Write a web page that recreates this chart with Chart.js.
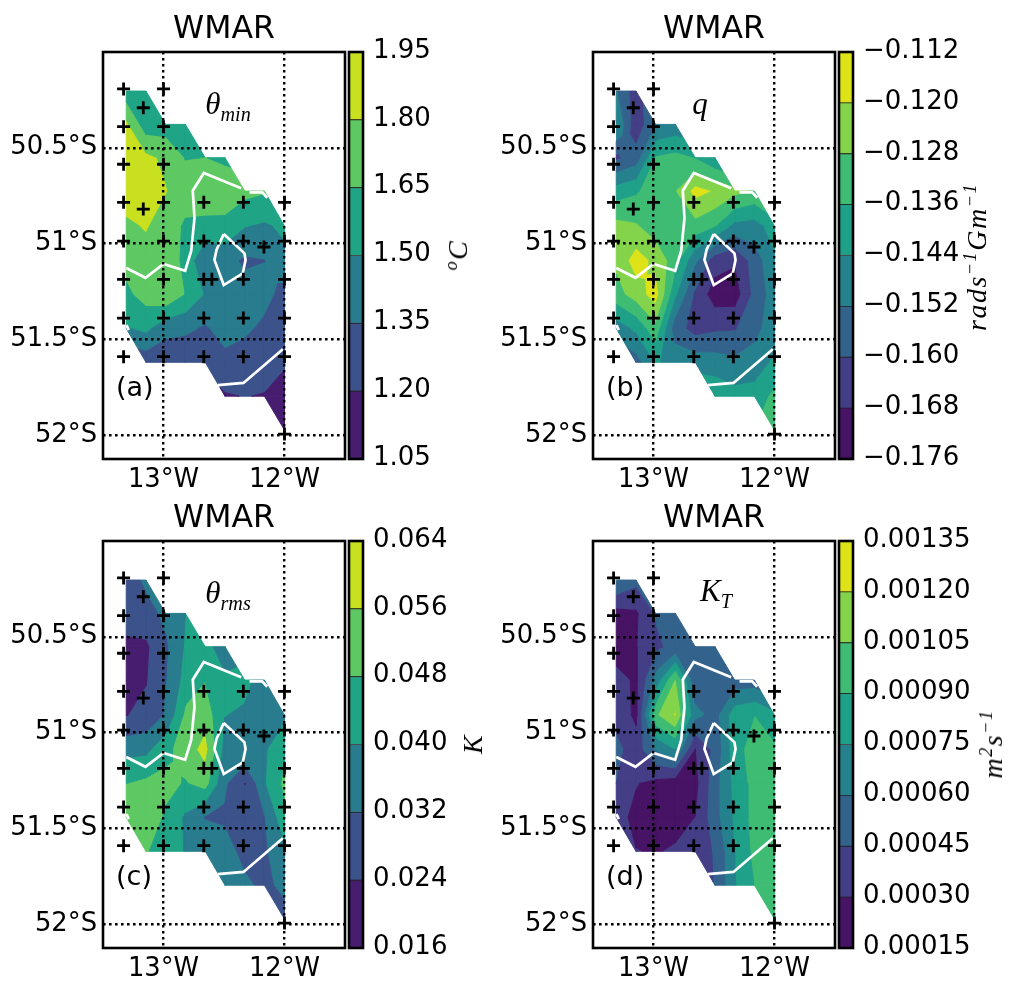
<!DOCTYPE html>
<html><head><meta charset="utf-8">
<style>
html,body{margin:0;padding:0;background:#fff;width:1011px;height:983px;overflow:hidden}
canvas{position:absolute}
.t{position:absolute;white-space:nowrap;color:#000;line-height:1}
.m{font-family:"Liberation Serif",serif;font-style:italic;font-size:31px;transform:translate(-50%,-50%)}
.m sub,.m sup{font-size:65%;line-height:0}
.p{font-family:"DejaVu Sans",sans-serif;font-size:27px;transform:translate(0,-50%)}
.r{font-family:"Liberation Serif",serif;font-style:italic;font-size:28px;letter-spacing:1.5px;transform:translate(-50%,-50%) rotate(-90deg)}
.r sup{font-size:65%;line-height:0}
</style>
<script src="https://cdn.jsdelivr.net/npm/chart.js@4"></script>
</head><body>
<script>
const N=null;
const titleText="WMAR";
const gridLons=[-13.308,-13.145,-12.982,-12.819,-12.655,-12.492,-12.329,-12.166,-12.0];
const gridLats=[50.204,50.378,50.552,50.726,50.909,51.089,51.266,51.443,51.62,51.797,51.974];
const lonTicks=[-13,-12];
const lonTickLabels=["13°W","12°W"];
const latTicks=[50.5,51,51.5,52];
const latTickLabels=["50.5°S","51°S","51.5°S","52°S"];
const stationLons=[-13.33,-13,-13.167,-13.33,-13,-13.33,-13,-13.33,-13.167,-13,-12.667,-12.34,-12,-13.33,-13,-12.667,-12.34,-12,-12.17,-13.33,-13,-12.667,-12.6,-12.34,-12,-13.33,-13,-12.667,-12.34,-12,-13.33,-13,-12.667,-12.34,-12,-12];
const stationLats=[50.193,50.193,50.291,50.39,50.39,50.586,50.586,50.785,50.82,50.785,50.785,50.785,50.785,50.987,50.987,50.987,50.987,50.987,51.018,51.187,51.187,51.187,51.187,51.187,51.187,51.389,51.389,51.389,51.389,51.389,51.591,51.591,51.591,51.591,51.591,51.995];
const whiteMainLons=[-12.358,-12.667,-12.758,-12.744,-12.771,-12.821,-13.0,-13.149,-13.308];
const whiteMainLats=[50.712,50.632,50.724,50.868,51.039,51.142,51.107,51.179,51.128];
const whiteStubLons=[-12.289,-12.184,-12.143];
const whiteStubLats=[50.733,50.733,50.761];
const whiteLoopLons=[-12.502,-12.331,-12.322,-12.345,-12.502,-12.579,-12.562,-12.502];
const whiteLoopLats=[50.950,51.051,51.086,51.156,51.217,51.086,51.034,50.950];
const whiteSouthLons=[-12.551,-12.339,-12.014];
const whiteSouthLats=[51.739,51.728,51.552];
const whiteBitLons=[-13.306,-13.287];
const whiteBitLats=[51.426,51.452];

const thetaMinLevels=[1.05,1.20,1.35,1.50,1.65,1.80,1.95];
const thetaMinTickLabels=["1.05","1.20","1.35","1.50","1.65","1.80","1.95"];
const thetaMinValues=[
[1.565,1.52,N,N,N,N,N,N,N],
[1.835,1.57,1.58,1.55,N,N,N,N,N],
[1.88,1.84,1.77,1.645,1.652,1.63,N,N,N],
[1.89,1.90,1.81,1.72,1.70,1.72,1.70,1.67,N],
[1.77,1.815,1.73,1.63,1.63,1.62,1.51,1.482,1.53],
[1.70,1.74,1.73,1.62,1.365,1.40,1.33,1.348,1.46],
[1.62,1.71,1.79,1.648,1.49,1.43,1.41,1.40,1.30],
[1.49,1.54,1.40,1.38,1.336,1.41,1.38,1.32,1.27],
[N,1.26,1.25,1.25,1.24,1.31,1.28,1.28,1.22],
[N,N,N,N,N,1.187,1.205,1.191,1.13],
[N,N,N,N,N,N,N,N,1.06]];

const qLevels=[-0.176,-0.168,-0.160,-0.152,-0.144,-0.136,-0.128,-0.120,-0.112];
const qTickLabels=["−0.176","−0.168","−0.160","−0.152","−0.144","−0.136","−0.128","−0.120","−0.112"];
const qValues=[
[-.151,-.164,N,N,N,N,N,N,N],
[-.143,-.165,-.152,-.149,N,N,N,N,N],
[-.161,-.156,-.135,-.1333,-.136,-.143,N,N,N],
[-.140,-.137,-.131,-.128,-.117,-.1205,-.125,-.129,N],
[-.125,-.127,-.132,-.134,-.1306,-.135,-.146,-.147,-.140],
[-.126,-.116,-.122,-.132,-.150,-.164,-.167,-.156,-.145],
[-.131,-.124,-.116,-.142,-.161,-.172,-.172,-.157,-.148],
[-.148,-.142,-.130,-.156,-.163,-.161,-.1605,-.154,-.148],
[N,-.155,-.143,-.147,-.147,-.148,-.150,-.149,-.142],
[N,N,N,N,N,-.138,-.141,-.140,-.134],
[N,N,N,N,N,N,N,N,-.130]];

const thetaRmsLevels=[0.016,0.024,0.032,0.040,0.048,0.056,0.064];
const thetaRmsTickLabels=["0.016","0.024","0.032","0.040","0.048","0.056","0.064"];
const thetaRmsValues=[
[.027,.034,N,N,N,N,N,N,N],
[.0255,.029,.034,.040,N,N,N,N,N],
[.0233,.0228,.031,.041,.042,.037,N,N,N],
[.021,.0236,.032,.043,.0478,.041,.042,.037,N],
[.0238,.026,.033,.050,.053,.0402,.039,.036,.0385],
[.0375,.038,.046,.052,.059,.0375,.0395,.039,.0465],
[.048,.050,.050,.0475,.0517,.0335,.0238,.0395,.050],
[.050,.053,.047,.039,.0318,.031,.030,.032,.046],
[N,.049,.043,.0397,.036,.035,.030,.031,.0385],
[N,N,N,N,N,.0345,.0335,.0305,.0338],
[N,N,N,N,N,N,N,N,.0295]];

const kTLevels=[15e-5,30e-5,45e-5,60e-5,75e-5,90e-5,105e-5,120e-5,135e-5];
const kTTickLabels=["0.00015","0.00030","0.00045","0.00060","0.00075","0.00090","0.00105","0.00120","0.00135"];
const kTValues=[
[62e-5,50e-5,N,N,N,N,N,N,N],
[25e-5,28e-5,47e-5,50e-5,N,N,N,N,N],
[23e-5,29.5e-5,42e-5,50e-5,50e-5,48e-5,N,N,N],
[35e-5,28e-5,66e-5,107e-5,50e-5,52e-5,52e-5,52e-5,N],
[40e-5,27e-5,103e-5,122e-5,65e-5,55e-5,84e-5,90e-5,80e-5],
[50e-5,37e-5,62e-5,76e-5,30e-5,50e-5,85e-5,96e-5,93e-5],
[45e-5,31e-5,26e-5,22e-5,26e-5,55e-5,80e-5,96e-5,92e-5],
[36e-5,26e-5,22e-5,24e-5,30.3e-5,55e-5,78e-5,96e-5,98e-5],
[N,30.5e-5,29e-5,32e-5,40e-5,46e-5,76e-5,94e-5,97e-5],
[N,N,N,N,N,45.5e-5,74e-5,90.5e-5,93e-5],
[N,N,N,N,N,N,N,N,92e-5]];

const colors6=["#471e6f","#3b528b","#287c8e","#20a486","#5ec962","#c8e020"];
const colors8=["#471365","#433e85","#33638d","#26818e","#1fa088","#3fbc73","#84d44b","#dde318"];

const panels=[
 {dx:0,dy:0,values:thetaMinValues,levels:thetaMinLevels,ticks:thetaMinTickLabels,colors:colors6},
 {dx:490,dy:0,values:qValues,levels:qLevels,ticks:qTickLabels,colors:colors8},
 {dx:0,dy:489,values:thetaRmsValues,levels:thetaRmsLevels,ticks:thetaRmsTickLabels,colors:colors6},
 {dx:490,dy:489,values:kTValues,levels:kTLevels,ticks:kTTickLabels,colors:colors8}
];

const frame={id:"frame",afterDraw(c){const a=c.chartArea,x=c.ctx;x.save();x.strokeStyle="#000";x.lineWidth=2.6;x.strokeRect(a.left,a.top,a.right-a.left,a.bottom-a.top);x.restore();}};
const noMargins=s=>{s.paddingLeft=0;s.paddingRight=0;s.paddingTop=0;s.paddingBottom=0;};

function clip(poly,level,above){
 const out=[];
 for(let i=0;i<poly.length;i++){
  const a=poly[i],b=poly[(i+1)%poly.length];
  const ai=above?a.v>=level:a.v<=level, bi=above?b.v>=level:b.v<=level;
  if(ai)out.push(a);
  if(ai!==bi){const t=(level-a.v)/(b.v-a.v);out.push({x:a.x+t*(b.x-a.x),y:a.y+t*(b.y-a.y),v:level});}
 }
 return out;
}
function cellPieces(corners,levels){
 if(corners.length<4)return [corners];
 const saddle=levels.some(L=>{const s=corners.map(o=>o.v>=L);return s[0]===s[2]&&s[1]===s[3]&&s[0]!==s[1];});
 if(!saddle)return [corners];
 const avg=k=>corners.reduce((t,o)=>t+o[k],0)/4;
 const mid={x:avg("x"),y:avg("y"),v:avg("v")};
 return corners.map((o,i)=>[o,corners[(i+1)%4],mid]);
}
function contourDatasets(values,levels,colors){
 const ds=[];
 for(let k=0;k<colors.length;k++){
  for(let r=0;r<gridLats.length-1;r++)for(let c=0;c<gridLons.length-1;c++){
   const corners=[[r,c],[r,c+1],[r+1,c+1],[r+1,c]].filter(q=>values[q[0]][q[1]]!==null)
     .map(q=>({x:gridLons[q[1]],y:gridLats[q[0]],v:values[q[0]][q[1]]}));
   if(corners.length<3)continue;
   cellPieces(corners,levels).forEach(piece=>{
    let p=clip(piece,levels[k],true);
    if(p.length)p=clip(p,levels[k+1],false);
    if(p.length<3)return;
    const pts=p.map(o=>({x:o.x,y:o.y}));pts.push(pts[0]);
    ds.push({data:pts,showLine:true,fill:"shape",backgroundColor:colors[k],borderColor:colors[k],borderWidth:1,borderJoinStyle:"round",pointRadius:0,tension:0});
   });
  }
 }
 return ds;
}
function zipLine(lons,lats){return {data:lons.map((x,i)=>({x,y:lats[i]})),showLine:true,fill:false,borderColor:"#fff",borderWidth:2.7,pointRadius:0,tension:0};}

panels.forEach(p=>{
 const cv=document.createElement("canvas");cv.width=347;cv.height=494;
 cv.style.left=p.dx+"px";cv.style.top=p.dy+"px";document.body.appendChild(cv);
 const datasets=[
  {data:stationLons.map((x,i)=>({x,y:stationLats[i]})),pointStyle:"cross",pointRadius:6.5,borderColor:"#000",borderWidth:2.8,showLine:false},
  zipLine(whiteMainLons,whiteMainLats),zipLine(whiteStubLons,whiteStubLats),zipLine(whiteLoopLons,whiteLoopLats),zipLine(whiteSouthLons,whiteSouthLats),zipLine(whiteBitLons,whiteBitLats),
  ...contourDatasets(p.values,p.levels,p.colors)];
 new Chart(cv,{type:"scatter",data:{datasets},plugins:[frame],options:{
  responsive:false,animation:false,events:[],devicePixelRatio:1,
  layout:{autoPadding:false,padding:{left:0,right:2,top:0,bottom:0}},
  plugins:{legend:{display:false},tooltip:{enabled:false},
   title:{display:true,text:titleText,fullSize:false,color:"#000",font:{family:"DejaVu Sans",size:31.5,weight:"normal"},padding:{top:10.5,bottom:3.7}}},
  scales:{
   x:{type:"linear",min:-13.5,max:-11.5,afterBuildTicks:s=>{s.ticks=lonTicks.map(value=>({value}));},afterFit:s=>{s.height=35;noMargins(s);},
    grid:{color:"#000",lineWidth:2.4,z:1,drawTicks:false},border:{display:false,dash:[2.6,3.4]},
    ticks:{autoSkip:false,maxRotation:0,padding:6,color:"#000",font:{family:"DejaVu Sans",size:25.8},callback:v=>lonTickLabels[lonTicks.indexOf(v)]}},
   y:{type:"linear",reverse:true,min:50,max:52.125,afterBuildTicks:s=>{s.ticks=latTicks.map(value=>({value}));},afterFit:s=>{s.width=103;noMargins(s);},
    grid:{color:"#000",lineWidth:2.4,z:1,drawTicks:false},border:{display:false,dash:[2.6,3.4]},
    ticks:{autoSkip:false,padding:6,color:"#000",font:{family:"DejaVu Sans",size:25.8},callback:v=>latTickLabels[latTicks.indexOf(v)]}}
  }}});

 const cb=document.createElement("canvas");cb.width=170;cb.height=483;
 cb.style.left=(p.dx+340)+"px";cb.style.top=p.dy+"px";document.body.appendChild(cb);
 const lv=p.levels;
 new Chart(cb,{type:"bar",data:{labels:[""],datasets:p.colors.map((col,k)=>({data:[[lv[k],lv[k+1]]],backgroundColor:col,borderColor:"#222",borderWidth:0.8,barPercentage:1,categoryPercentage:1,borderSkipped:false}))},plugins:[frame],options:{
  responsive:false,animation:false,events:[],devicePixelRatio:1,
  layout:{autoPadding:false,padding:{left:9,right:0,top:52,bottom:24}},
  plugins:{legend:{display:false},tooltip:{enabled:false}},
  scales:{
   x:{display:false,stacked:true},
   y:{position:"right",min:lv[0],max:lv[lv.length-1],afterBuildTicks:s=>{s.ticks=lv.map(value=>({value}));},afterFit:s=>{s.width=147;noMargins(s);},
    grid:{display:false},border:{display:false},
    ticks:{autoSkip:false,padding:2,labelOffset:-1,color:"#000",font:{family:"DejaVu Sans",size:26},callback:(v,i)=>p.ticks[i]}}
  }}});
});
</script>
<div class="t m" style="left:228px;top:103px">θ<sub>min</sub></div>
<div class="t m" style="left:700px;top:103px">q</div>
<div class="t m" style="left:228px;top:592px">θ<sub>rms</sub></div>
<div class="t m" style="left:716px;top:590px">K<sub>T</sub></div>
<div class="t p" style="left:116px;top:386px">(a)</div>
<div class="t p" style="left:606px;top:386px">(b)</div>
<div class="t p" style="left:116px;top:875px">(c)</div>
<div class="t p" style="left:606px;top:875px">(d)</div>
<div class="t r" style="left:458px;top:255px"><sup style="font-style:italic">o</sup>C</div>
<div class="t r" style="left:977px;top:257px">rads<sup>−1</sup>Gm<sup>−1</sup></div>
<div class="t r" style="left:473px;top:744px">K</div>
<div class="t r" style="left:993px;top:744px">m<sup>2</sup>s<sup>−1</sup></div>
</body></html>
